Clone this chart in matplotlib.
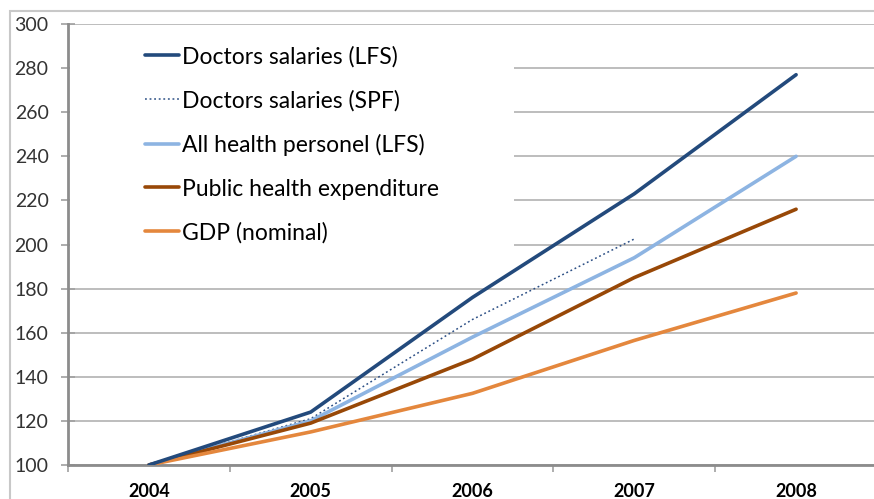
import matplotlib
matplotlib.use("Agg")
import matplotlib.pyplot as plt
import matplotlib.transforms as mtransforms
from matplotlib.patches import Rectangle

years = ["2004", "2005", "2006", "2007", "2008"]
doctors_lfs = [100, 124, 176, 223, 277]
doctors_spf = [100, 121, 166, 202.5]
health_personnel = [100, 120, 158, 194, 240]
public_health = [100, 119, 148, 185, 216]
gdp = [100, 115, 132.5, 156.5, 178]

plt.rcParams.update({"font.family": ["Lato", "DejaVu Sans"]})
W, H = 874, 499
fig = plt.figure(figsize=(W / 100, H / 100), dpi=100)
ax = fig.add_axes([68 / W, 1 - 465 / H, (877 - 68) / W, (465 - 24) / H])

x = range(len(years))
ax.plot(x, doctors_lfs, color="#234a7c", lw=2.6, label="Doctors salaries (LFS)", zorder=5,
        solid_capstyle="round")
ax.plot(range(len(doctors_spf)), doctors_spf, color="#2c4f85", lw=1.1, ls=(0, (1.2, 1.8)),
        label="Doctors salaries (SPF)", zorder=4)
ax.plot(x, health_personnel, color="#8db4e2", lw=2.6, label="All health personel (LFS)", zorder=4,
        solid_capstyle="round")
ax.plot(x, public_health, color="#984807", lw=2.6, label="Public health expenditure", zorder=4,
        solid_capstyle="round")
ax.plot(x, gdp, color="#e4873d", lw=2.6, label="GDP (nominal)", zorder=4,
        solid_capstyle="round")

ax.set_xlim(-0.5, 4.5)
ax.set_ylim(100, 300)
ax.set_yticks(range(100, 301, 20))
ax.set_xticks(list(x))
ax.set_xticklabels(years, fontweight="bold", fontsize=13)
ax.set_xticks([i - 0.5 for i in range(len(years) + 1)], minor=True)
ax.tick_params(axis="x", which="major", length=0, pad=13)
ax.tick_params(axis="x", which="minor", length=5, width=1.2, color="#a0a0a0", direction="out")
ax.tick_params(axis="y", length=10, width=1.2, color="#a0a0a0", direction="inout", labelsize=14,
               pad=9, labelcolor="#333333")
ax.grid(True, axis="y", color="#b8b8b8", lw=1.3)
ax.set_axisbelow(True)
for s in ["top", "right"]:
    ax.spines[s].set_visible(False)
for s in ["left", "bottom"]:
    ax.spines[s].set_color("#8c8c8c")
    ax.spines[s].set_linewidth(2)

# white box behind the legend hides the gridlines there
tr = mtransforms.blended_transform_factory(ax.transAxes, ax.transData)
ax.add_patch(Rectangle((0.003, 193), (514 - 70) / 809, 106, transform=tr,
                       facecolor="white", edgecolor="none", zorder=2))
ax.legend(loc="upper left", bbox_to_anchor=((145 - 68) / 809, (465 - 46) / 441), frameon=False,
          fontsize=16.5, handlelength=1.5, handletextpad=0.12, labelspacing=0.98, borderpad=0,
          borderaxespad=0)

fig.patches.append(Rectangle((10 / W, -0.1), 1.0, (H - 11) / H + 0.1, transform=fig.transFigure,
                             fill=False, edgecolor="#c8c8c8", lw=1.5))

fig.savefig("out.png", dpi=100, facecolor="white")
